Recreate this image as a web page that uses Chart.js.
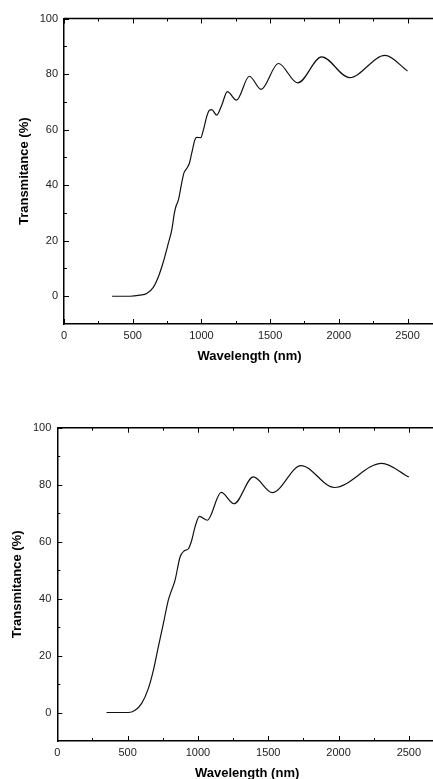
<!DOCTYPE html>
<html>
<head>
<meta charset="utf-8">
<script src="https://cdn.jsdelivr.net/npm/chart.js@4.4.1/dist/chart.umd.min.js"></script>
<style>
    html, body { margin: 0; padding: 0; background: #fff; overflow: hidden; width: 433px; height: 779px; }
    canvas { position: absolute; left: 0; }
</style>
</head>
<body>
<canvas id="chartTop" width="450" height="372" style="top:0"></canvas>
<canvas id="chartBottom" width="450" height="420" style="top:372px"></canvas>
<script>
// sample 1 spectrum
var wavelength1 = [350, 480, 553, 602, 650, 687, 723, 759, 784, 803, 815, 832, 856, 873, 893, 912, 929, 953, 966, 995,
    1014, 1038, 1058, 1075, 1111, 1148, 1189, 1255, 1349, 1434, 1560, 1701, 1875, 2077, 2336, 2500];
var transmit1 = [0, 0, 0.4, 1.0, 3.2, 7.0, 12.4, 19.0, 23.8, 29.8, 32.4, 34.6, 40.6, 44.4, 46, 47.8, 51.4, 56.4, 57.2, 57.1,
    59.8, 64.6, 67, 67.2, 65.2, 68.8, 73.7, 70.6, 79.2, 74.5, 83.8, 76.8, 86.2, 78.7, 86.7, 81.1];

// sample 2 spectrum
var wavelength2 = [350, 505, 553, 600, 647, 683, 718, 754, 789, 806, 837, 873, 901, 932, 956, 979, 1010, 1067,
    1165, 1257, 1394, 1529, 1733, 1970, 2307, 2500];
var transmit2 = [0, 0, 0.8, 3.2, 8.4, 14.8, 23, 31.2, 39.4, 42, 46.4, 54.6, 56.7, 57.5, 60.5, 65.1, 68.9, 67.5,
    77.3, 73.3, 82.7, 77.2, 86.7, 79.0, 87.5, 82.7];

var xTicks = [0, 500, 1000, 1500, 2000, 2500];
var xMinor = [250, 750, 1250, 1750, 2250];
var yTicks = [0, 20, 40, 60, 80, 100];
var yMinor = [10, 30, 50, 70, 90];

// inward ticks on left, bottom and top, plus the top frame line
var frameTicks = {
    id: 'frameTicks',
    afterDraw: function (chart) {
        var c = chart.ctx, a = chart.chartArea;
        var xs = chart.scales.x, ys = chart.scales.y;
        c.save();
        c.strokeStyle = '#000';
        c.lineWidth = 1.5;
        c.beginPath();
        c.moveTo(a.left, a.top);
        c.lineTo(a.right + 2, a.top);
        c.stroke();
        c.lineWidth = 1;
        function xt(v, len) {
            var p = Math.round(xs.getPixelForValue(v)) + 0.5;
            c.moveTo(p, a.bottom); c.lineTo(p, a.bottom - len);
            c.moveTo(p, a.top); c.lineTo(p, a.top + len);
        }
        function yt(v, len) {
            var p = Math.round(ys.getPixelForValue(v)) + 0.5;
            c.moveTo(a.left, p); c.lineTo(a.left + len, p);
        }
        c.beginPath();
        xTicks.forEach(function (v) { xt(v, 5); });
        xMinor.forEach(function (v) { xt(v, 3); });
        yTicks.forEach(function (v) { yt(v, 5); });
        yMinor.forEach(function (v) { yt(v, 3); });
        c.stroke();
        c.restore();
    }
};

function makeChart(id, xs, ys, g) {
    var ctx = document.getElementById(id).getContext('2d');
    return new Chart(ctx, {
        type: 'line',
        data: {
            datasets: [{
                data: xs.map(function (x, i) { return { x: x, y: ys[i] }; }),
                borderColor: '#111',
                borderWidth: 1.2,
                pointRadius: 0,
                cubicInterpolationMode: 'monotone',
                fill: false
            }]
        },
        options: {
            responsive: false,
            animation: false,
            layout: { padding: { left: 0, top: g.top, right: g.right, bottom: 0 } },
            plugins: { legend: { display: false }, tooltip: { enabled: false } },
            scales: {
                x: {
                    type: 'linear',
                    min: 0,
                    max: 2700,
                    afterBuildTicks: function (s) { s.ticks = xTicks.map(function (v) { return { value: v }; }); },
                    afterFit: function (s) { s.height = g.xh; },
                    grid: { display: false, drawTicks: false },
                    border: { color: '#000', width: 1.5 },
                    ticks: {
                        padding: 5, color: '#222', font: { family: 'Liberation Sans, Arial', size: 11 },
                        callback: function (v) { return String(v); }
                    },
                    title: {
                        display: true,
                        text: 'Wavelength (nm)',
                        color: '#000',
                        font: { family: 'Liberation Sans, Arial', size: 13, weight: 'bold' },
                        padding: { top: 0, bottom: g.xtPad }
                    }
                },
                y: {
                    min: -10,
                    max: 100,
                    afterBuildTicks: function (s) { s.ticks = yTicks.map(function (v) { return { value: v }; }); },
                    afterFit: function (s) { s.width = g.yw; },
                    grid: { display: false, drawTicks: false },
                    border: { color: '#000', width: 1.5 },
                    ticks: {
                        padding: 6, color: '#222', font: { family: 'Liberation Sans, Arial', size: 11 },
                        callback: function (v) { return String(v); }
                    },
                    title: {
                        display: true,
                        text: 'Transmitance (%)',
                        color: '#000',
                        font: { family: 'Liberation Sans, Arial', size: 13, weight: 'bold' },
                        padding: { top: g.ytPad, bottom: 0 }
                    }
                }
            }
        },
        plugins: [frameTicks]
    });
}

document.addEventListener("DOMContentLoaded", function () {
    makeChart('chartTop', wavelength1, transmit1, { top: 18.5, right: 15, yw: 64, xh: 48, xtPad: 8, ytPad: 17 });
    makeChart('chartBottom', wavelength2, transmit2, { top: 55.7, right: 13, yw: 57.3, xh: 51, xtPad: 11, ytPad: 10 });
});
</script>
</body>
</html>
